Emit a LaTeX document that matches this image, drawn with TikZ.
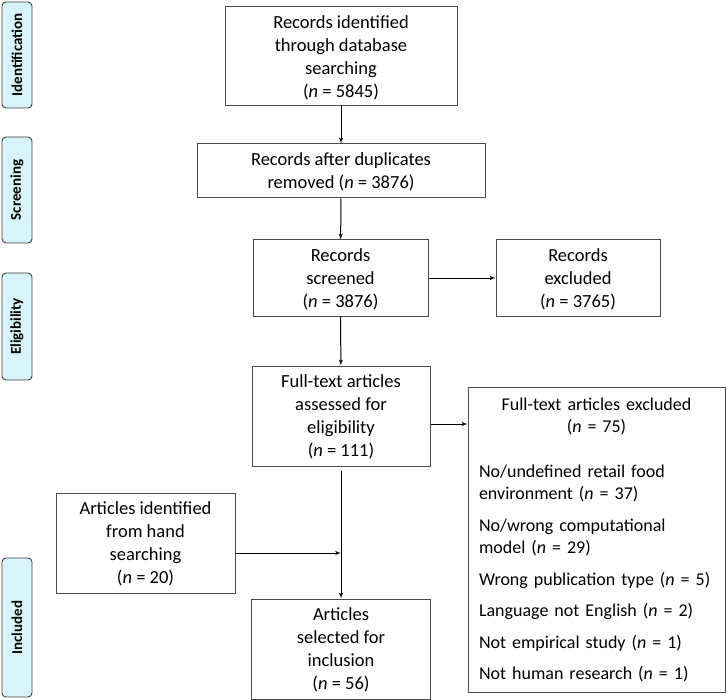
\documentclass[tikz,border=0pt]{standalone}
\usepackage{fontspec}
\setmainfont{Carlito}
\usepackage{tikz}
\usetikzlibrary{arrows}

\definecolor{phasecyan}{RGB}{214,244,249}

\begin{document}
\begin{tikzpicture}
    [x=1pt,y=-1pt,->,>=latex',line width=1pt,
      box/.style={draw=black!70,line width=1pt,align=center,inner sep=2pt,text depth=-14pt,
        font=\fontsize{18.5}{23}\selectfont},
      phase/.style={draw=black!75,line width=0.9pt,fill=phasecyan,rounded corners=4pt,
        rotate=90,minimum height=30pt,inner sep=0pt,font=\fontsize{15}{16}\selectfont\bfseries}]
      \useasboundingbox (0,0) rectangle (727,700);

      % phases
      \node[phase,minimum width=106pt] (identification) at (17,55) {Identification};
      \node[phase,minimum width=106pt] (screening) at (17,190) {Screening};
      \node[phase,minimum width=107pt] (eligibility) at (17,326.5) {Eligibility};
      \node[phase,minimum width=139pt] (included) at (17,627.5) {Included};

      \node[box,minimum width=232pt,minimum height=99pt] (identified) at (341,56.5)
        {Records identified\\through database\\searching\\(\textit{n} = 5845)};
      \node[box,minimum width=288pt,minimum height=54pt] (duplicates) at (341,171)
        {Records after duplicates\\removed (\textit{n} = 3876)};
      \node[box,minimum width=175pt,minimum height=76pt] (screened) at (340.5,278)
        {Records\\screened\\(\textit{n} = 3876)};
      \node[box,minimum width=164pt,minimum height=76pt] (excluded) at (578,278)
        {Records\\excluded\\(\textit{n} = 3765)};
      \node[box,minimum width=178pt,minimum height=100pt] (assessed) at (341,416)
        {Full-text articles\\assessed for\\eligibility\\(\textit{n} = 111)};
      \node[box,text depth={},text width=235pt,inner xsep=11pt,align=left,minimum height=305pt,
        font=\fontsize{18}{22.5}\selectfont] (ftexcluded) at (596.5,540)
        {{\centering Full-text articles excluded\\(\textit{n} = 75)\par}\vspace{22pt}
         No/undefined retail food\\environment (\textit{n} = 37)\par\vspace{9pt}
         No/wrong computational\\model (\textit{n} = 29)\par\vspace{9pt}
         Wrong publication type (\textit{n} = 5)\par\vspace{9pt}
         Language not English (\textit{n} = 2)\par\vspace{9pt}
         Not empirical study (\textit{n} = 1)\par\vspace{9pt}
         Not human research (\textit{n} = 1)};
      \node[box,minimum width=179pt,minimum height=100pt] (handsearch) at (145.5,543)
        {Articles identified\\from hand\\searching\\(\textit{n} = 20)};
      \node[box,minimum width=179pt,minimum height=100pt] (selected) at (341,649)
        {Articles\\selected for\\inclusion\\(\textit{n} = 56)};

      \foreach \from/\to in {identified/duplicates,duplicates/screened,screened/assessed}
	\draw (\from) -- (\to);
      \draw (screened.east) -- (screened.east -| excluded.west);
      \draw ([yshift=-8pt]assessed.east) -- ([yshift=-8pt]assessed.east -| ftexcluded.west);
      \draw[shorten <=4pt] (assessed.south) -- (selected.north);
      \draw ([yshift=-10pt]handsearch.east) -- ([yshift=-10pt]handsearch.east -| selected.north);

    \end{tikzpicture}
\end{document}
